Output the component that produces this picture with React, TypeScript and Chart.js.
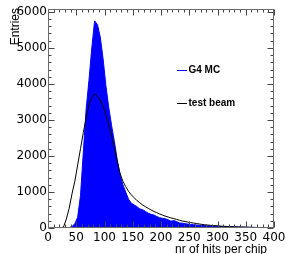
import React, { useEffect, useRef } from "react";
import { Chart, registerables } from "chart.js";

Chart.register(...registerables);

const BIN_WIDTH = 5;
const X_MIN = 0;
const X_MAX = 400;
const Y_MIN = 0;
const Y_MAX = 6080;

const xTickValues = [0, 50, 100, 150, 200, 250, 300, 350, 400];
const yTickValues = [0, 1000, 2000, 3000, 4000, 5000, 6000];

const seriesNames = ["G4 MC", "test beam"];
const xTitle = "nr of hits per chip";
const yTitle = "Entries";

// G4 MC (blue, filled), bins of width 5 from 0 to 400
const g4mc = [
  0, 0, 0, 0, 0, 0, 0, 8, 40, 120,
  300, 900, 2100, 3300, 4100, 5000, 5750, 5650, 5300, 4700,
  3950, 3350, 2850, 2400, 1900, 1480, 1200, 1000, 800, 690,
  640, 590, 530, 510, 460, 410, 380, 360, 320, 285,
  270, 255, 230, 190, 205, 180, 140, 135, 120, 110,
  100, 92, 85, 76, 70, 66, 60, 58, 55, 50,
  46, 42, 40, 38, 35, 32, 30, 28, 25, 22,
  20, 18, 16, 15, 13, 12, 11, 10, 9, 8,
];

// test beam (black outline)
const testBeam = [
  0, 0, 0, 0, 0, 30, 250, 550, 950, 1300,
  1750, 2200, 2650, 3050, 3420, 3620, 3720, 3650, 3550, 3380,
  3150, 2870, 2560, 2220, 1850, 1520, 1300, 1150, 1020, 920,
  840, 760, 700, 640, 590, 545, 500, 460, 425, 390,
  360, 330, 305, 280, 260, 240, 215, 195, 180, 165,
  150, 137, 125, 112, 100, 90, 82, 75, 68, 62,
  56, 51, 46, 42, 38, 35, 32, 29, 27, 25,
  22, 20, 18, 16, 15, 14, 12, 11, 10, 9,
];

const toPoints = (vals: number[]) =>
  vals.map((v, i) => ({ x: X_MIN + (i + 0.5) * BIN_WIDTH, y: v }));

const frameColor = "#6a6a6a";
const tickColor = "#444";

const rootPlugin = {
  id: "rootFrame",
  afterDatasetsDraw(chart: any) {
    const { ctx, chartArea } = chart;
    const xs = chart.scales.x;
    const ys = chart.scales.y;
    const L = Math.round(chartArea.left) + 0.5;
    const R = Math.round(chartArea.right) - 0.5;
    const T = Math.round(chartArea.top) + 0.5;
    const B = Math.round(chartArea.bottom) - 0.5;
    ctx.save();
    ctx.strokeStyle = tickColor;
    ctx.lineWidth = 1;
    ctx.beginPath();
    for (let v = X_MIN; v <= X_MAX; v += 10) {
      const px = Math.round(xs.getPixelForValue(v)) + 0.5;
      const len = v % 50 === 0 ? 6 : 3;
      ctx.moveTo(px, B);
      ctx.lineTo(px, B - len);
      ctx.moveTo(px, T);
      ctx.lineTo(px, T + len);
    }
    for (let v = Y_MIN; v <= Y_MAX; v += 200) {
      const py = Math.round(ys.getPixelForValue(v)) + 0.5;
      const len = v % 1000 === 0 ? 6 : 3;
      ctx.moveTo(L, py);
      ctx.lineTo(L + len, py);
      ctx.moveTo(R, py);
      ctx.lineTo(R - len, py);
    }
    ctx.stroke();
    ctx.strokeStyle = frameColor;
    ctx.strokeRect(L, T, R - L, B - T);

    ctx.fillStyle = "#000";
    ctx.font = "12px 'Liberation Sans', Arial, sans-serif";
    ctx.textAlign = "right";
    ctx.textBaseline = "alphabetic";
    ctx.fillText(xTitle, 267, 253);
    ctx.save();
    ctx.translate(18.5, 8);
    ctx.rotate(-Math.PI / 2);
    ctx.textAlign = "right";
    ctx.fillText(yTitle, 0, 0);
    ctx.restore();

    const entries = [
      { label: seriesNames[0], color: "#0000ff", y: 70 },
      { label: seriesNames[1], color: "#000000", y: 102.5 },
    ];
    ctx.font = "bold 10px 'Liberation Sans', Arial, sans-serif";
    ctx.textAlign = "left";
    ctx.textBaseline = "middle";
    for (const e of entries) {
      ctx.strokeStyle = e.color;
      ctx.beginPath();
      ctx.moveTo(177, Math.round(e.y) + 0.5);
      ctx.lineTo(187, Math.round(e.y) + 0.5);
      ctx.stroke();
      ctx.fillStyle = "#000";
      ctx.fillText(e.label, 188.5, e.y + 0.5);
    }
    ctx.restore();
  },
};

const tickFont = { family: "'DejaVu Sans'", size: 12 };

export default function App() {
  const ref = useRef<HTMLCanvasElement | null>(null);
  useEffect(() => {
    if (!ref.current) return;
    const chart = new Chart(ref.current, {
      type: "line",
      data: {
        datasets: [
          {
            label: seriesNames[1],
            data: toPoints(testBeam),
            borderColor: "#000000",
            borderWidth: 1,
            pointRadius: 0,
            tension: 0,
            fill: false,
            order: 0,
          },
          {
            label: seriesNames[0],
            data: toPoints(g4mc),
            borderColor: "#0000ff",
            backgroundColor: "#0000ff",
            borderWidth: 1,
            pointRadius: 0,
            tension: 0,
            fill: "origin",
            order: 1,
          },
        ],
      },
      options: {
        animation: false,
        responsive: false,
        devicePixelRatio: 1,
        layout: { padding: { top: 9, right: 13, left: 0, bottom: 0 } },
        plugins: {
          legend: { display: false },
          tooltip: { enabled: false },
        },
        scales: {
          x: {
            type: "linear",
            min: X_MIN,
            max: X_MAX,
            border: { display: false },
            grid: { display: false, drawTicks: false },
            afterBuildTicks: (s: any) => {
              s.ticks = xTickValues.map((v) => ({ value: v }));
            },
            ticks: {
              autoSkip: false,
              maxRotation: 0,
              minRotation: 0,
              padding: 3,
              color: "#000",
              font: tickFont,
              callback: (v: any) => String(v),
            },
            afterFit: (s: any) => {
              s.height = 26;
              s.paddingLeft = 0;
              s.paddingRight = 0;
            },
          },
          y: {
            type: "linear",
            min: Y_MIN,
            max: Y_MAX,
            border: { display: false },
            grid: { display: false, drawTicks: false },
            afterBuildTicks: (s: any) => {
              s.ticks = yTickValues.map((v) => ({ value: v }));
            },
            ticks: {
              autoSkip: false,
              padding: 1,
              color: "#000",
              font: tickFont,
              callback: (v: any) => String(v),
            },
            afterFit: (s: any) => {
              s.width = 48;
              s.paddingTop = 0;
              s.paddingBottom = 0;
            },
          },
        },
      },
      plugins: [rootPlugin],
    });
    return () => chart.destroy();
  }, []);
  return (
    <div style={{ position: "absolute", left: 0, top: 0, width: 287, height: 254, background: "#fff" }}>
      <canvas ref={ref} width={287} height={254} />
    </div>
  );
}
